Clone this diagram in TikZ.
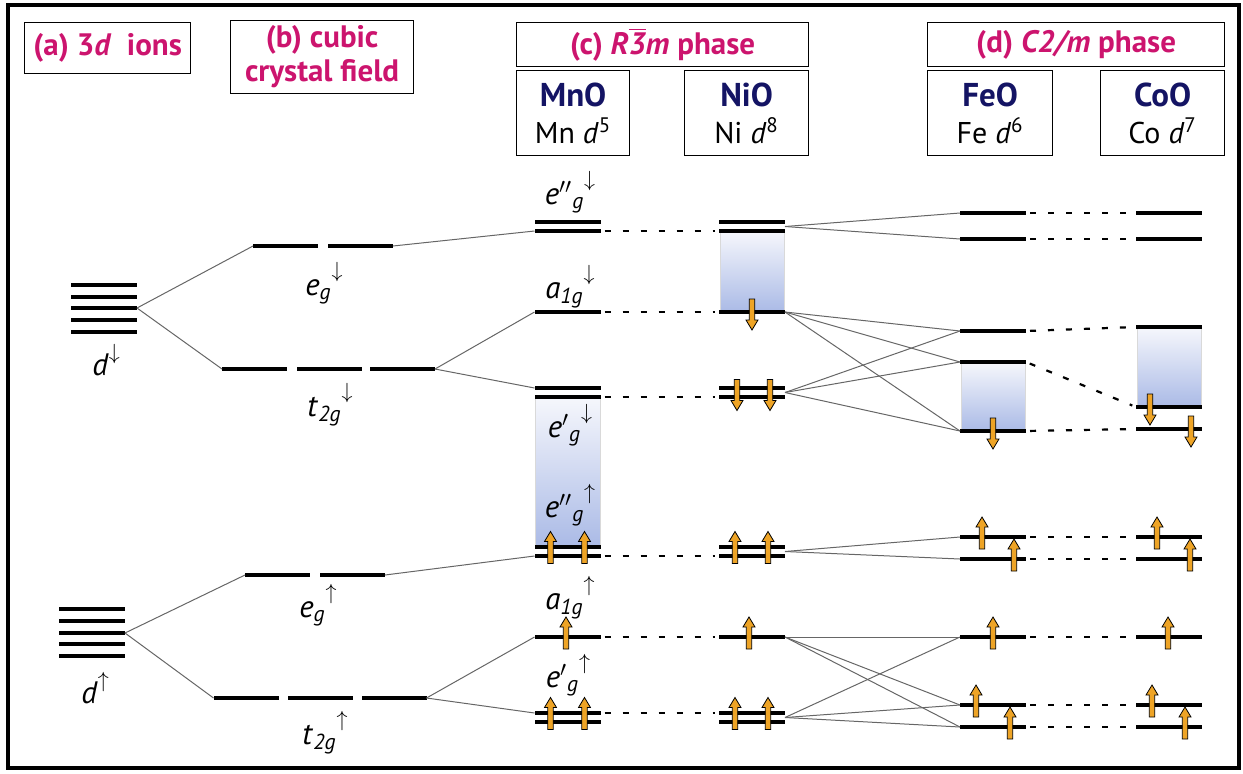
\documentclass[tikz,border=0pt]{standalone}
\usepackage{amsmath}
\usepackage{fontspec}
\setmainfont{PT Sans}
\usetikzlibrary{positioning,calc}

\definecolor{titlemag}{RGB}{204,20,110}
\definecolor{formnavy}{RGB}{20,20,100}
\definecolor{spinorange}{RGB}{238,164,38}
\definecolor{holeblue}{RGB}{170,186,230}
\definecolor{holetop}{RGB}{246,247,252}

\newcommand{\orb}[3]{\textit{#1}$_{\text{\itshape #2}}$\raisebox{1.15ex}{$\scriptstyle#3$}}

\tikzset{
	lvl/.style={rectangle, fill=black, inner sep=0pt, outer sep=0pt, minimum width=33pt, minimum height=1.7pt},
	seg/.style={lvl, minimum width=32.5pt},
	conn/.style={color=black!60, line width=0.5pt},
	dashlink/.style={color=black, line width=1.1pt, dash pattern=on 3pt off 6pt, shorten <=2pt, shorten >=2pt},
	titlebox/.style={draw, line width=0.6pt, inner sep=0pt, align=center, anchor=north west, text=titlemag, font=\bfseries\fontsize{15.5}{17}\selectfont},
	oxbox/.style={draw, line width=0.6pt, inner sep=0pt, align=center, anchor=north west, minimum height=42.5pt, font=\fontsize{15}{18.5}\selectfont},
	orblab/.style={font=\fontsize{15.5}{17}\selectfont},
	hole/.style={top color=holetop, bottom color=holeblue, draw=black!15, line width=0.3pt},
	spinup/.pic={
		\filldraw[fill=spinorange, draw=black, line width=0.4pt]
			(-2.7,12) -- (-2.7,-10) -- (-6,-10) -- (0,-20) -- (6,-10) -- (2.7,-10) -- (2.7,12) -- cycle;
	},
	spindn/.pic={
		\filldraw[fill=spinorange, draw=black, line width=0.4pt]
			(-2.7,-13) -- (-2.7,8) -- (-6,8) -- (0,18) -- (6,8) -- (2.7,8) -- (2.7,-13) -- cycle;
	}
}

\begin{document}
\begin{tikzpicture}[x=0.5pt, y=-0.5pt]
	\useasboundingbox (0,0) rectangle (1243,773);
	\draw[line width=2pt] (8,5) rectangle (1239,768);
	
	% headings
	\node[titlebox, minimum width=83pt, minimum height=25.5pt] (ttl-a) at (24,22) {(a) 3\textit{d}\enspace ions};
	\node[titlebox, minimum width=91.5pt, minimum height=36.5pt] (ttl-b) at (230,20) {(b) cubic\\crystal field};
	\node[titlebox, minimum width=146pt, minimum height=22pt] (ttl-c) at (516,22) {(c) \textit{R}$\overline{\text{\itshape 3}}$\textit{m} phase};
	\node[titlebox, minimum width=148.5pt, minimum height=22pt] (ttl-d) at (927,22) {(d) \textit{C2/m} phase};
	
	\node[oxbox, minimum width=56.5pt] (box-mno) at (516,70) {{\bfseries\fontsize{16.5}{18.5}\selectfont\color{formnavy}MnO}\\Mn \textit{d}\textsuperscript{5}};
	\node[oxbox, minimum width=62pt] (box-nio) at (684,70) {{\bfseries\fontsize{16.5}{18.5}\selectfont\color{formnavy}NiO}\\Ni \textit{d}\textsuperscript{8}};
	\node[oxbox, minimum width=62.5pt] (box-feo) at (927,70) {{\bfseries\fontsize{16.5}{18.5}\selectfont\color{formnavy}FeO}\\Fe \textit{d}\textsuperscript{6}};
	\node[oxbox, minimum width=62pt] (box-coo) at (1100,70) {{\bfseries\fontsize{16.5}{18.5}\selectfont\color{formnavy}CoO}\\Co \textit{d}\textsuperscript{7}};
	
	% empty states
	\draw[hole] (535,397) rectangle (600,547);
	\draw[hole] (720,231) rectangle (784,312);
	\draw[hole] (961,362) rectangle (1025,431);
	\draw[hole] (1137,327) rectangle (1201,407);
	
	% (a) free ions
	\foreach \i/\y in {1/285,2/297,3/308,4/320,5/332}
		\node[lvl] (dd\i) at (104,\y) {};
	\foreach \i/\y in {1/609,2/621,3/633,4/644,5/656}
		\node[lvl] (du\i) at (92,\y) {};
	
	% (b) cubic field
	\node[seg] (egd1) at (285.5,246) {};
	\node[seg] (egd2) at (360.5,246) {};
	\node[seg] (tgd1) at (254.5,369) {};
	\node[seg] (tgd2) at (329.5,369) {};
	\node[seg] (tgd3) at (402.5,369) {};
	\node[seg] (egu1) at (277.5,575) {};
	\node[seg] (egu2) at (352.5,575) {};
	\node[seg] (tgu1) at (246,698) {};
	\node[seg] (tgu2) at (320.5,698) {};
	\node[seg] (tgu3) at (394,698) {};
	
	% (c) MnO and NiO
	\foreach \c/\x in {mn/567.5,ni/752}{
		\node[lvl] (\c-eppd-a) at (\x,222) {};
		\node[lvl] (\c-eppd-b) at (\x,231) {};
		\node[lvl] (\c-a1d) at (\x,312) {};
		\node[lvl] (\c-epd-a) at (\x,388) {};
		\node[lvl] (\c-epd-b) at (\x,397) {};
		\node[lvl] (\c-eppu-a) at (\x,547) {};
		\node[lvl] (\c-eppu-b) at (\x,556) {};
		\node[lvl] (\c-a1u) at (\x,637) {};
		\node[lvl] (\c-epu-a) at (\x,713) {};
		\node[lvl] (\c-epu-b) at (\x,722) {};
	}
	\coordinate (ni-eppd) at ($(ni-eppd-a.east)!0.5!(ni-eppd-b.east)$);
	\coordinate (ni-epd) at ($(ni-epd-a.east)!0.5!(ni-epd-b.east)$);
	\coordinate (ni-eppu) at ($(ni-eppu-a.east)!0.5!(ni-eppu-b.east)$);
	\coordinate (ni-epu) at ($(ni-epu-a.east)!0.5!(ni-epu-b.east)$);
	
	% (d) FeO and CoO
	\foreach \i/\y in {1/213,2/239,3/331,4/362,5/431}
		\node[lvl] (fe-d\i) at (993,\y) {};
	\foreach \i/\y in {1/213,2/239,3/327,4/407,5/429}
		\node[lvl] (co-d\i) at (1169,\y) {};
	\foreach \i/\y in {1/537,2/559,3/637,4/705,5/727}{
		\node[lvl] (fe-u\i) at (993,\y) {};
		\node[lvl] (co-u\i) at (1169,\y) {};
	}
	
	% labels
	\node[orblab] (lab-dd) at (106,360) {\textit{d}\raisebox{1ex}{$\scriptstyle\downarrow$}};
	\node[orblab] (lab-du) at (95,688) {\textit{d}\raisebox{1ex}{$\scriptstyle\uparrow$}};
	\node[orblab] (lab-egd) at (324,283) {\orb{e}{g}{\downarrow}};
	\node[orblab] (lab-tgd) at (330,405) {\orb{t}{2g}{\downarrow}};
	\node[orblab] (lab-egu) at (318,605) {\orb{e}{g}{\uparrow}};
	\node[orblab] (lab-tgu) at (325,733) {\orb{t}{2g}{\uparrow}};
	\node[orblab] (lab-eppd) at (570,192) {\orb{e$''$}{g}{\downarrow}};
	\node[orblab] (lab-a1d) at (570,287) {\orb{a}{1g}{\downarrow}};
	\node[orblab] (lab-epd) at (570,425) {\orb{e$'$}{g}{\downarrow}};
	\node[orblab] (lab-eppu) at (570,505) {\orb{e$''$}{g}{\uparrow}};
	\node[orblab] (lab-a1u) at (570,598) {\orb{a}{1g}{\uparrow}};
	\node[orblab] (lab-epu) at (568,675) {\orb{e$'$}{g}{\uparrow}};
	
	% splitting lines
	\path[conn]
	(dd3.east) edge (egd1.west)
	(dd3.east) edge (tgd1.west)
	(du3.east) edge (egu1.west)
	(du3.east) edge (tgu1.west)
	(egd2.east) edge (mn-eppd-b.west)
	(tgd3.east) edge (mn-a1d.west)
	(tgd3.east) edge (mn-epd-a.west)
	(egu2.east) edge (mn-eppu-b.west)
	(tgu3.east) edge (mn-a1u.west)
	(tgu3.east) edge (mn-epu-a.west)
	(ni-eppd) edge (fe-d1.west)
	(ni-eppd) edge (fe-d2.west)
	(ni-a1d.east) edge (fe-d3.west)
	(ni-a1d.east) edge (fe-d4.west)
	(ni-a1d.east) edge (fe-d5.west)
	(ni-epd) edge (fe-d3.west)
	(ni-epd) edge (fe-d4.west)
	(ni-epd) edge (fe-d5.west)
	(ni-eppu) edge (fe-u1.west)
	(ni-eppu) edge (fe-u2.west)
	(ni-a1u.east) edge (fe-u3.west)
	(ni-a1u.east) edge (fe-u4.west)
	(ni-a1u.east) edge (fe-u5.west)
	(ni-epu) edge (fe-u3.west)
	(ni-epu) edge (fe-u4.west)
	(ni-epu) edge (fe-u5.west)
	;
	
	\path[dashlink]
	(mn-eppd-b.east) edge (ni-eppd-b.west)
	(mn-a1d.east) edge (ni-a1d.west)
	(mn-epd-b.east) edge (ni-epd-b.west)
	(mn-eppu-b.east) edge (ni-eppu-b.west)
	(mn-a1u.east) edge (ni-a1u.west)
	(mn-epu-a.east) edge (ni-epu-a.west)
	;
	\foreach \i in {1,...,5}
		\path[dashlink] (fe-d\i.east) edge (co-d\i.west) (fe-u\i.east) edge (co-u\i.west);
	
	% spins
	\pic at (752,312) {spindn};
	\pic at (737,392.5) {spindn};
	\pic at (770,392.5) {spindn};
	\pic at (993,431) {spindn};
	\pic at (1150,407) {spindn};
	\pic at (1191,429) {spindn};
	
	\pic at (550.5,551.5) {spinup};
	\pic at (584.5,551.5) {spinup};
	\pic at (566,637) {spinup};
	\pic at (550.5,717.5) {spinup};
	\pic at (584.5,717.5) {spinup};
	\pic at (735,551.5) {spinup};
	\pic at (768,551.5) {spinup};
	\pic at (749,637) {spinup};
	\pic at (735,717.5) {spinup};
	\pic at (768,717.5) {spinup};
	
	\pic at (982,537) {spinup};
	\pic at (1014,559) {spinup};
	\pic at (993,637) {spinup};
	\pic at (976,705) {spinup};
	\pic at (1010,727) {spinup};
	\pic at (1157,537) {spinup};
	\pic at (1190,559) {spinup};
	\pic at (1168,637) {spinup};
	\pic at (1152,705) {spinup};
	\pic at (1185,727) {spinup};
\end{tikzpicture}
\end{document}
